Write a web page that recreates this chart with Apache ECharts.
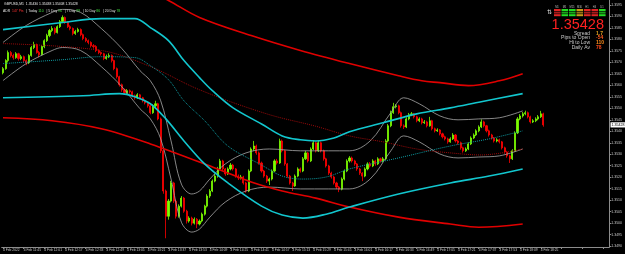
<!DOCTYPE html>
<html><head><meta charset="utf-8">
<script src="https://cdn.jsdelivr.net/npm/echarts@6/dist/echarts.min.js"></script>
<style>html,body{margin:0;padding:0;background:#000;}#c{width:625px;height:254px;}</style>
</head><body><div id="c"></div>
<script>
const timeLabels = ["4 Feb 2022","4 Feb 11:45","4 Feb 12:01","4 Feb 12:17","4 Feb 12:33","4 Feb 12:49","4 Feb 13:05","4 Feb 13:21","4 Feb 13:37","4 Feb 13:53","4 Feb 14:09","4 Feb 14:25","4 Feb 14:41","4 Feb 14:57","4 Feb 15:13","4 Feb 15:29","4 Feb 15:45","4 Feb 16:01","4 Feb 16:17","4 Feb 16:33","4 Feb 16:49","4 Feb 17:05","4 Feb 17:21","4 Feb 17:37","4 Feb 17:53","4 Feb 18:09","4 Feb 18:25"];
const lastPrice = 1.35428;
// [open, close, low, high]
const candles = [
[1.35655,1.35673,1.35648,1.35680],[1.35673,1.35708,1.35668,1.35714],[1.35708,1.35743,1.35700,1.35752],[1.35743,1.35730,1.35722,1.35750],
[1.35730,1.35721,1.35712,1.35738],[1.35721,1.35738,1.35716,1.35745],[1.35738,1.35717,1.35708,1.35742],[1.35717,1.35725,1.35710,1.35733],
[1.35725,1.35708,1.35700,1.35730],[1.35708,1.35699,1.35688,1.35713],[1.35699,1.35730,1.35693,1.35736],[1.35730,1.35765,1.35725,1.35772],
[1.35765,1.35778,1.35758,1.35790],[1.35778,1.35743,1.35738,1.35782],[1.35743,1.35734,1.35722,1.35750],[1.35734,1.35769,1.35730,1.35775],
[1.35769,1.35795,1.35762,1.35801],[1.35795,1.35817,1.35789,1.35825],[1.35817,1.35839,1.35810,1.35846],[1.35839,1.35848,1.35832,1.35858],
[1.35848,1.35830,1.35822,1.35853],[1.35830,1.35856,1.35826,1.35862],[1.35856,1.35878,1.35850,1.35885],[1.35878,1.35896,1.35872,1.35905],
[1.35896,1.35874,1.35868,1.35900],[1.35874,1.35856,1.35850,1.35880],[1.35856,1.35848,1.35840,1.35862],[1.35848,1.35826,1.35818,1.35852],
[1.35826,1.35835,1.35820,1.35842],[1.35835,1.35843,1.35830,1.35851],[1.35843,1.35821,1.35814,1.35848],[1.35821,1.35804,1.35797,1.35826],
[1.35804,1.35795,1.35788,1.35810],[1.35795,1.35787,1.35779,1.35800],[1.35787,1.35773,1.35765,1.35792],[1.35773,1.35769,1.35760,1.35780],
[1.35769,1.35752,1.35745,1.35775],[1.35752,1.35743,1.35736,1.35757],[1.35743,1.35738,1.35730,1.35748],[1.35738,1.35717,1.35710,1.35742],
[1.35717,1.35725,1.35712,1.35734],[1.35725,1.35730,1.35719,1.35740],[1.35730,1.35708,1.35700,1.35735],[1.35708,1.35673,1.35666,1.35712],
[1.35673,1.35638,1.35630,1.35678],[1.35638,1.35603,1.35595,1.35642],[1.35603,1.35581,1.35572,1.35608],[1.35581,1.35568,1.35560,1.35586],
[1.35568,1.35577,1.35562,1.35584],[1.35577,1.35572,1.35564,1.35582],[1.35572,1.35555,1.35548,1.35577],[1.35555,1.35546,1.35538,1.35560],
[1.35546,1.35559,1.35541,1.35566],[1.35559,1.35546,1.35539,1.35563],[1.35546,1.35533,1.35526,1.35550],[1.35533,1.35524,1.35517,1.35538],
[1.35524,1.35511,1.35503,1.35528],[1.35511,1.35481,1.35474,1.35515],[1.35481,1.35511,1.35476,1.35518],[1.35511,1.35520,1.35504,1.35533],
[1.35520,1.35454,1.35448,1.35524],[1.35454,1.35315,1.35305,1.35460],[1.35315,1.35140,1.35128,1.35320],[1.35140,1.35030,1.34934,1.35146],
[1.35030,1.35096,1.35015,1.35105],[1.35096,1.35175,1.35090,1.35184],[1.35175,1.35096,1.35088,1.35180],[1.35096,1.35030,1.35020,1.35102],
[1.35030,1.35074,1.35024,1.35082],[1.35074,1.35109,1.35068,1.35118],[1.35109,1.35052,1.35045,1.35114],[1.35052,1.35009,1.34998,1.35058],
[1.35009,1.35022,1.35002,1.35030],[1.35022,1.35000,1.34990,1.35028],[1.35000,1.35017,1.34994,1.35025],[1.35017,1.34996,1.34978,1.35022],
[1.34996,1.35009,1.34990,1.35016],[1.35009,1.35039,1.35003,1.35046],[1.35039,1.35074,1.35033,1.35080],[1.35074,1.35118,1.35068,1.35126],
[1.35118,1.35140,1.35110,1.35148],[1.35140,1.35183,1.35135,1.35190],[1.35183,1.35205,1.35178,1.35214],[1.35205,1.35236,1.35198,1.35245],
[1.35236,1.35271,1.35230,1.35280],[1.35271,1.35236,1.35228,1.35276],[1.35236,1.35214,1.35206,1.35240],[1.35214,1.35236,1.35210,1.35243],
[1.35236,1.35253,1.35230,1.35262],[1.35253,1.35236,1.35229,1.35258],[1.35236,1.35205,1.35198,1.35240],[1.35205,1.35197,1.35188,1.35212],
[1.35197,1.35201,1.35190,1.35210],[1.35201,1.35175,1.35168,1.35206],[1.35175,1.35140,1.35132,1.35180],[1.35140,1.35227,1.35135,1.35234],
[1.35227,1.35323,1.35222,1.35330],[1.35323,1.35336,1.35315,1.35358],[1.35336,1.35306,1.35298,1.35342],[1.35306,1.35262,1.35255,1.35312],
[1.35262,1.35227,1.35220,1.35268],[1.35227,1.35205,1.35198,1.35232],[1.35205,1.35183,1.35175,1.35210],[1.35183,1.35192,1.35166,1.35198],
[1.35192,1.35227,1.35186,1.35234],[1.35227,1.35271,1.35222,1.35278],[1.35271,1.35262,1.35255,1.35280],[1.35262,1.35358,1.35258,1.35368],
[1.35358,1.35315,1.35308,1.35364],[1.35315,1.35258,1.35250,1.35320],[1.35258,1.35205,1.35198,1.35262],[1.35205,1.35175,1.35168,1.35210],
[1.35175,1.35162,1.35140,1.35180],[1.35162,1.35205,1.35158,1.35212],[1.35205,1.35236,1.35200,1.35243],[1.35236,1.35227,1.35220,1.35242],
[1.35227,1.35280,1.35222,1.35288],[1.35280,1.35306,1.35275,1.35315],[1.35306,1.35271,1.35264,1.35310],[1.35271,1.35323,1.35266,1.35330],
[1.35323,1.35350,1.35318,1.35362],[1.35350,1.35315,1.35308,1.35355],[1.35315,1.35350,1.35310,1.35362],[1.35350,1.35315,1.35308,1.35355],
[1.35315,1.35280,1.35272,1.35320],[1.35280,1.35249,1.35242,1.35285],[1.35249,1.35218,1.35210,1.35254],[1.35218,1.35201,1.35194,1.35224],
[1.35201,1.35175,1.35168,1.35206],[1.35175,1.35157,1.35148,1.35180],[1.35157,1.35148,1.35135,1.35162],[1.35148,1.35192,1.35143,1.35199],
[1.35192,1.35227,1.35186,1.35234],[1.35227,1.35271,1.35222,1.35278],[1.35271,1.35284,1.35264,1.35292],[1.35284,1.35271,1.35264,1.35290],
[1.35271,1.35258,1.35250,1.35276],[1.35258,1.35236,1.35228,1.35262],[1.35236,1.35218,1.35210,1.35240],[1.35218,1.35205,1.35183,1.35222],
[1.35205,1.35236,1.35200,1.35243],[1.35236,1.35258,1.35230,1.35265],[1.35258,1.35249,1.35242,1.35266],[1.35249,1.35271,1.35244,1.35278],
[1.35271,1.35258,1.35250,1.35276],[1.35258,1.35280,1.35253,1.35287],[1.35280,1.35271,1.35264,1.35285],[1.35271,1.35280,1.35265,1.35288],
[1.35280,1.35358,1.35275,1.35366],[1.35358,1.35424,1.35352,1.35432],[1.35424,1.35481,1.35418,1.35490],[1.35481,1.35507,1.35476,1.35524],
[1.35507,1.35511,1.35500,1.35518],[1.35511,1.35481,1.35474,1.35516],[1.35481,1.35424,1.35416,1.35486],[1.35424,1.35419,1.35410,1.35430],
[1.35419,1.35454,1.35414,1.35461],[1.35454,1.35472,1.35448,1.35480],[1.35472,1.35476,1.35466,1.35484],[1.35476,1.35463,1.35456,1.35480],
[1.35463,1.35446,1.35439,1.35468],[1.35446,1.35454,1.35440,1.35461],[1.35454,1.35437,1.35430,1.35459],[1.35437,1.35441,1.35432,1.35449],
[1.35441,1.35424,1.35417,1.35446],[1.35424,1.35446,1.35420,1.35463],[1.35446,1.35411,1.35404,1.35450],[1.35411,1.35402,1.35395,1.35416],
[1.35402,1.35406,1.35397,1.35413],[1.35406,1.35389,1.35382,1.35410],[1.35389,1.35376,1.35369,1.35394],[1.35376,1.35367,1.35360,1.35381],
[1.35367,1.35354,1.35346,1.35372],[1.35354,1.35367,1.35350,1.35374],[1.35367,1.35384,1.35362,1.35392],[1.35384,1.35358,1.35351,1.35388],
[1.35358,1.35350,1.35342,1.35363],[1.35350,1.35328,1.35320,1.35355],[1.35328,1.35315,1.35307,1.35333],[1.35315,1.35323,1.35310,1.35330],
[1.35323,1.35345,1.35318,1.35352],[1.35345,1.35371,1.35340,1.35378],[1.35371,1.35384,1.35366,1.35391],[1.35384,1.35402,1.35379,1.35409],
[1.35402,1.35419,1.35396,1.35426],[1.35419,1.35441,1.35414,1.35452],[1.35441,1.35424,1.35417,1.35446],[1.35424,1.35402,1.35395,1.35428],
[1.35402,1.35384,1.35377,1.35407],[1.35384,1.35371,1.35364,1.35389],[1.35371,1.35358,1.35351,1.35375],[1.35358,1.35363,1.35352,1.35370],
[1.35363,1.35354,1.35347,1.35368],[1.35354,1.35328,1.35321,1.35358],[1.35328,1.35310,1.35302,1.35333],[1.35310,1.35293,1.35285,1.35315],
[1.35293,1.35280,1.35262,1.35298],[1.35280,1.35315,1.35275,1.35322],[1.35315,1.35393,1.35310,1.35400],[1.35393,1.35454,1.35388,1.35462],
[1.35454,1.35467,1.35448,1.35475],[1.35467,1.35476,1.35460,1.35484],[1.35476,1.35481,1.35470,1.35490],[1.35481,1.35463,1.35456,1.35486],
[1.35463,1.35441,1.35434,1.35468],[1.35441,1.35446,1.35436,1.35453],[1.35446,1.35454,1.35440,1.35461],[1.35454,1.35463,1.35448,1.35471],
[1.35463,1.35476,1.35458,1.35489],[1.35476,1.35428,1.35420,1.35481]
];
// indicator readings: [bar index, price]
const cyanUpper = [[0,1.35843],[23,1.35874],[38,1.35891],[51,1.35891],[57,1.35852],[64,1.35795],[70,1.35708],[76,1.35634],[81,1.35577],[89,1.35502],[100,1.35432],[108,1.35380],[115,1.35363],[121,1.35358],[128,1.35371],[134,1.35398],[147,1.35437],[160,1.35476],[173,1.35502],[185,1.35529],[201,1.35564]];
const cyanLower = [[0,1.35546],[31,1.35555],[45,1.35564],[51,1.35551],[57,1.35520],[63,1.35454],[70,1.35358],[78,1.35258],[87,1.35175],[100,1.35074],[108,1.35035],[116,1.35022],[125,1.35039],[134,1.35070],[153,1.35127],[173,1.35175],[188,1.35205],[201,1.35236]];
const cyanMid = [[0,1.35695],[23,1.35712],[38,1.35725],[51,1.35721],[57,1.35686],[64,1.35625],[70,1.35533],[78,1.35446],[87,1.35336],[100,1.35253],[108,1.35205],[116,1.35192],[125,1.35201],[134,1.35236],[153,1.35284],[173,1.35336],[188,1.35367],[201,1.35402]];
const redUpper = [[53,1.36031],[64,1.35970],[76,1.35896],[96,1.35817],[115,1.35752],[134,1.35695],[153,1.35642],[162,1.35620],[169,1.35612],[180,1.35599],[192,1.35620],[201,1.35651]];
const redLower = [[0,1.35459],[19,1.35446],[38,1.35411],[57,1.35345],[83,1.35236],[96,1.35179],[108,1.35140],[121,1.35109],[134,1.35070],[153,1.35026],[173,1.34996],[184,1.34982],[201,1.34996]];
const redMid = [[0,1.35782],[38,1.35752],[57,1.35682],[76,1.35581],[102,1.35476],[121,1.35422],[134,1.35380],[147,1.35354],[160,1.35323],[173,1.35306],[185,1.35297],[201,1.35323]];
const grayUpper = [[0,1.35787],[9,1.35861],[19,1.35918],[23,1.35931],[30,1.35918],[38,1.35848],[46,1.35760],[53,1.35664],[57,1.35620],[61,1.35533],[65,1.35358],[69,1.35170],[73,1.35127],[76,1.35140],[80,1.35192],[86,1.35258],[94,1.35306],[103,1.35323],[115,1.35315],[126,1.35315],[134,1.35315],[142,1.35358],[150,1.35481],[155,1.35546],[161,1.35520],[169,1.35467],[176,1.35450],[184,1.35454],[192,1.35459],[201,1.35489]];
const grayLower = [[0,1.35621],[9,1.35695],[19,1.35752],[23,1.35765],[30,1.35752],[38,1.35682],[46,1.35594],[53,1.35498],[57,1.35454],[61,1.35367],[65,1.35192],[69,1.35004],[73,1.34961],[76,1.34974],[80,1.35026],[86,1.35092],[94,1.35140],[103,1.35157],[115,1.35149],[126,1.35149],[134,1.35149],[142,1.35192],[150,1.35315],[155,1.35380],[161,1.35354],[169,1.35301],[176,1.35284],[184,1.35288],[192,1.35293],[201,1.35323]];
const panelRows = [["Spread","1.7","#e0a020"],["Pips to Open","-54","#ff5a1e"],["Hi to Low","110","#ff8c1a"],["Daily Av","78","#ff4a1a"]];
const tfLabels = ["M1","M5","M15","M30","H1","H4","D1"];
const tfColors = ["#e02424","#22dd22","#22dd22","#c89a18","#e02424","#e02424","#22dd22"];

const SLOTS = 235;
const cats = Array.from({length: SLOTS}, (_, i) => String(i));
const FONT = '"Liberation Sans", Arial, sans-serif';
const chart = echarts.init(document.getElementById('c'), null, {renderer: 'canvas'});

function ind(data, color, width, type) {
  return {type: 'line', data: data, smooth: 0.35, symbol: 'none', silent: true, z: 3,
    lineStyle: {color: color, width: width, type: type}};
}

const graphics = [];
graphics.push({type: 'text', x: 4, y: 3.8, style: {text: 'GBPUSD,M1  1.35430 1.35438 1.35408 1.35428', fill: '#e8e8e8', fontSize: 3.4, fontFamily: FONT, verticalAlign: 'middle'}});
graphics.push({type: 'text', x: 3, y: 11, style: {
  text: '{w|ADR}  {r|147 Pts}   {w|| Today} {g|110}   {w|| 5 Day} {g|96}   {w|| 7 Day} {g|88}   {w|| 10 Day} {g|86}   {w|| 20 Day} {g|78}',
  fontSize: 3.4, fontFamily: FONT, verticalAlign: 'middle',
  rich: {w: {fill: '#e0e0e0', fontSize: 3.4}, r: {fill: '#ff3030', fontSize: 3.4}, g: {fill: '#40e040', fontSize: 3.4}}}});
const colX = [554, 561.5, 569, 576.5, 584, 591.5, 599];
tfLabels.forEach((t, k) => {
  graphics.push({type: 'text', x: colX[k] + 3, y: 7, style: {text: t, fill: '#bbbbbb', fontSize: 2.6, fontFamily: FONT, align: 'center', verticalAlign: 'middle'}});
  [9, 11.6, 14.2].forEach((yy, s) => {
    graphics.push({type: 'rect', shape: {x: colX[k], y: yy, width: 6.6, height: 2}, style: {fill: tfColors[k], opacity: s === 1 ? 0.75 : 1}});
  });
});
graphics.push({type: 'text', x: 549.5, y: 12.5, style: {text: '⇅', fill: '#e0e0e0', fontSize: 6, fontFamily: 'DejaVu Sans', align: 'center', verticalAlign: 'middle'}});
graphics.push({type: 'text', x: 604, y: 24.5, style: {text: lastPrice.toFixed(5), fill: '#ff2020', fontSize: 14.5, fontFamily: FONT, align: 'right', verticalAlign: 'middle'}});
panelRows.forEach((r, k) => {
  const yy = 33.3 + k * 4.8;
  graphics.push({type: 'text', x: 590, y: yy, style: {text: r[0], fill: '#c8c8c8', fontSize: 5, fontFamily: FONT, align: 'right', verticalAlign: 'middle'}});
  graphics.push({type: 'text', x: 596, y: yy, style: {text: r[1], fill: r[2], fontSize: 5, fontFamily: FONT, fontWeight: 'bold', align: 'left', verticalAlign: 'middle'}});
});

const option = {
  backgroundColor: '#000',
  animation: false,
  grid: {left: 0, right: 15, top: 0, bottom: 7, containLabel: false},
  xAxis: {
    type: 'category', data: cats, boundaryGap: true,
    axisLine: {show: true, lineStyle: {color: '#8c8c8c', width: 1}},
    axisTick: {show: true, length: 2, alignWithLabel: true, interval: (i) => i % 8 === 0, lineStyle: {color: '#8c8c8c'}},
    axisLabel: {interval: (i) => i % 8 === 0, align: 'left', margin: 1.5, fontSize: 3.3, color: '#c8c8c8', fontFamily: FONT,
      formatter: (v) => { const n = Number(v); return (n % 8 === 0 && timeLabels[n / 8]) ? timeLabels[n / 8] : ''; }},
    splitLine: {show: false}
  },
  yAxis: {
    type: 'value', position: 'right', min: 1.34896, max: 1.35972, splitNumber: 21, scale: true,
    axisLine: {show: true, lineStyle: {color: '#8c8c8c', width: 1}},
    axisTick: {show: true, length: 2, lineStyle: {color: '#8c8c8c'}},
    axisLabel: {margin: 2, fontSize: 3.5, color: '#c8c8c8', fontFamily: FONT, showMinLabel: false, showMaxLabel: false,
      formatter: (v) => { const q = v * 2000; return Math.abs(q - Math.round(q)) < 1e-4 ? v.toFixed(4) : ''; }},
    splitLine: {show: false}
  },
  series: [
    {type: 'candlestick', data: candles, barWidth: '62%', z: 2,
      itemStyle: {color: '#7cfc00', color0: '#ff0000', borderColor: '#7cfc00', borderColor0: '#ff0000', borderWidth: 0.8}},
    ind(grayUpper, '#a8a8a8', 0.8, 'solid'),
    ind(grayLower, '#a8a8a8', 0.8, 'solid'),
    ind(redMid, '#9a0a0a', 1, 'dotted'),
    ind(cyanMid, '#0e9aa0', 1, 'dotted'),
    ind(redUpper, '#e00000', 1.6, 'solid'),
    ind(redLower, '#e00000', 1.6, 'solid'),
    ind(cyanUpper, '#12c6ce', 1.6, 'solid'),
    ind(cyanLower, '#12c6ce', 1.6, 'solid')
  ],
  graphic: graphics
};
chart.setOption(option);
// current price tag on the price scale, positioned through the y axis scale
const py = chart.convertToPixel({yAxisIndex: 0}, lastPrice);
const gridRight = chart.getWidth() - 15;
chart.setOption({graphic: graphics.concat([
  {type: 'rect', z: 100, shape: {x: gridRight + 0.5, y: py - 2.6, width: 14.5, height: 5.2}, style: {fill: '#ffffff'}},
  {type: 'text', z: 101, x: gridRight + 1.5, y: py, style: {text: lastPrice.toFixed(5), fill: '#000', fontSize: 3.6, fontFamily: FONT, align: 'left', verticalAlign: 'middle'}}
])});
</script></body></html>
